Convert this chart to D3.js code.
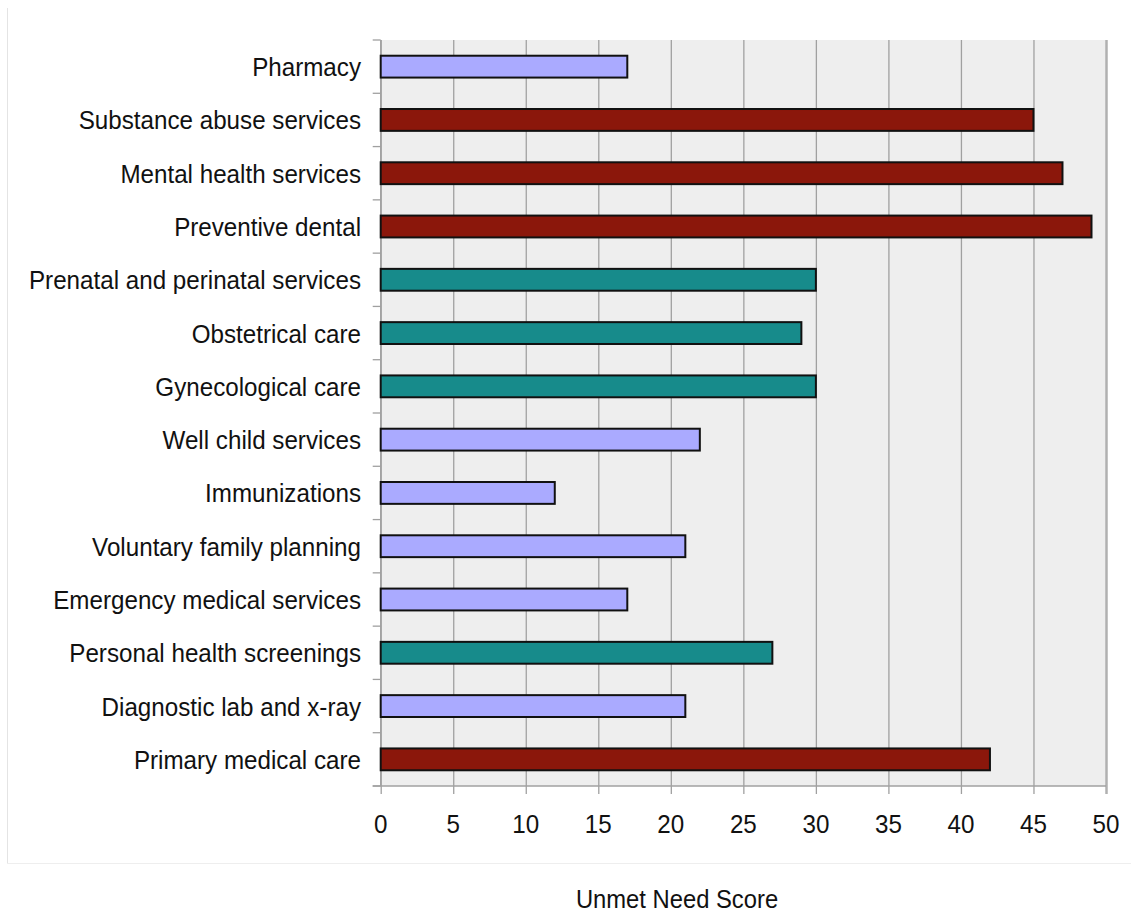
<!DOCTYPE html>
<html>
<head>
<meta charset="utf-8">
<script src="https://cdn.jsdelivr.net/npm/d3@7"></script>
<style>
  html, body { margin: 0; padding: 0; background: #fff; }
  svg { display: block; font-family: "Liberation Sans", Arial, sans-serif; }
</style>
</head>
<body>
<svg id="chart" width="1131" height="914"></svg>
<script>
// Services, listed top to bottom
const services = [
  "Pharmacy",
  "Substance abuse services",
  "Mental health services",
  "Preventive dental",
  "Prenatal and perinatal services",
  "Obstetrical care",
  "Gynecological care",
  "Well child services",
  "Immunizations",
  "Voluntary family planning",
  "Emergency medical services",
  "Personal health screenings",
  "Diagnostic lab and x-ray",
  "Primary medical care"
];
const scores = [17, 45, 47, 49, 30, 29, 30, 22, 12, 21, 17, 27, 21, 42];
// Need level group for each service
const levels = ["low", "high", "high", "high", "mid", "mid", "mid", "low", "low", "low", "low", "mid", "low", "high"];
const levelNames = ["low", "mid", "high"];
const levelColors = ["#aaaaff", "#178b8b", "#8b170b"];
const xTicks = [0, 5, 10, 15, 20, 25, 30, 35, 40, 45, 50];
const xTitle = "Unmet Need Score";

const svg = d3.select("#chart");
const plot = { left: 380.7, right: 1106, top: 40, bottom: 786 };
const fontSize = 24.2;
const stretch = 1.1;   // text is drawn slightly tall
const capH = fontSize * 0.716 * stretch;

const x = d3.scaleLinear().domain([0, 50]).range([plot.left, plot.right]);
const y = d3.scaleBand().domain(services).range([plot.top, plot.bottom]).paddingInner(0.59).paddingOuter(0.295);
const band = d3.scaleBand().domain(services).range([plot.top, plot.bottom]);
const color = d3.scaleOrdinal().domain(levelNames).range(levelColors);

// Chart frame lines
svg.append("line").attr("x1", 7.5).attr("x2", 7.5).attr("y1", 8).attr("y2", 863)
  .attr("stroke", "#e4e4e4").attr("stroke-width", 1);
svg.append("line").attr("x1", 7).attr("x2", 1131).attr("y1", 863.5).attr("y2", 863.5)
  .attr("stroke", "#eeeeee").attr("stroke-width", 1);

// Plot background
svg.append("rect")
  .attr("x", plot.left).attr("y", plot.top)
  .attr("width", plot.right - plot.left).attr("height", plot.bottom - plot.top)
  .attr("fill", "#eeeeee");

// Vertical gridlines with ticks below the axis
const xAxis = d3.axisBottom(x).tickValues(xTicks).tickSize(-(plot.bottom - plot.top)).tickFormat("");
const gx = svg.append("g").attr("transform", `translate(0,${plot.bottom})`).call(xAxis);
gx.select(".domain").remove();
gx.selectAll(".tick line").attr("stroke", "#a0a0a0").attr("stroke-width", 1.3)
  .attr("y1", 8);
gx.selectAll(".tick").filter(d => d === 50).select("line").attr("stroke", "#b0b0b0").attr("stroke-width", 2.5);

// Tick labels
svg.append("g").selectAll("text").data(xTicks).join("text")
  .attr("transform", d => `translate(${x(d)},833) scale(1,${stretch})`)
  .attr("text-anchor", "middle")
  .attr("font-size", fontSize)
  .attr("fill", "#111")
  .text(d => d);

// Bottom axis line
svg.append("line").attr("x1", plot.left - 8).attr("x2", plot.right).attr("y1", plot.bottom).attr("y2", plot.bottom)
  .attr("stroke", "#a0a0a0").attr("stroke-width", 1.3);

// Left axis with ticks at band boundaries
svg.append("line").attr("x1", plot.left).attr("x2", plot.left).attr("y1", plot.top).attr("y2", plot.bottom)
  .attr("stroke", "#a0a0a0").attr("stroke-width", 1.3);
const bounds = services.map(s => band(s)).concat([plot.bottom]);
svg.append("g").selectAll("line").data(bounds).join("line")
  .attr("x1", plot.left - 8).attr("x2", plot.left)
  .attr("y1", d => d).attr("y2", d => d)
  .attr("stroke", "#a0a0a0").attr("stroke-width", 1.3);

// Category labels
svg.append("g").selectAll("text").data(services).join("text")
  .attr("transform", d => `translate(361,${band(d) + band.bandwidth() / 2 + capH / 2}) scale(1,${stretch})`)
  .attr("text-anchor", "end")
  .attr("font-size", fontSize)
  .attr("fill", "#111")
  .text(d => d);

// Bars
svg.append("g").selectAll("rect").data(services).join("rect")
  .attr("x", x(0))
  .attr("y", d => y(d))
  .attr("width", (d, i) => x(scores[i]) - x(0))
  .attr("height", y.bandwidth())
  .attr("fill", (d, i) => color(levels[i]))
  .attr("stroke", "#111")
  .attr("stroke-width", 2);

// Axis title
svg.append("text")
  .attr("transform", `translate(677,908) scale(1,${stretch})`)
  .attr("text-anchor", "middle")
  .attr("font-size", 23.8)
  .attr("fill", "#111")
  .text(xTitle);
</script>
</body>
</html>
